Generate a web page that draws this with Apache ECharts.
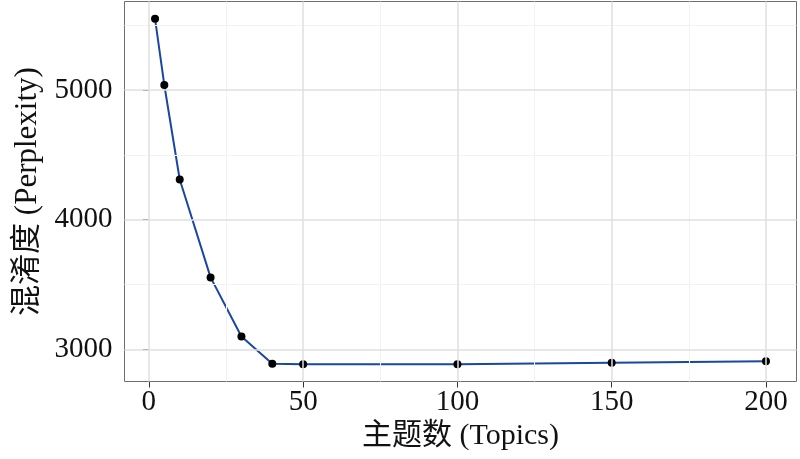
<!DOCTYPE html>
<html>
<head>
<meta charset="utf-8">
<script src="https://cdn.jsdelivr.net/npm/echarts@6/dist/echarts.min.js"></script>
<style>
html,body{margin:0;padding:0;background:#fff;}
#chart{width:800px;height:459px;}
</style>
</head>
<body>
<div id="chart"></div>
<script>
// Data
const topics = [2, 5, 10, 20, 30, 40, 50, 100, 150, 200];
const perplexity = [5548, 5038, 4310, 3556, 3100, 2890, 2887, 2887, 2898, 2910];
// Axis ticks
const xMajorTicks = [0, 50, 100, 150, 200];
const xMinorTicks = [25, 75, 125, 175];
const yMajorTicks = [3000, 4000, 5000];
const yMinorTicks = [3500, 4500, 5500];
const xTitle = '主题数 (Topics)';
const yTitle = '混淆度 (Perplexity)';

// ggplot-like 5% expansion of data range
const xr = [Math.min(...topics), Math.max(...topics)];
const yr = [Math.min(...perplexity), Math.max(...perplexity)];
const xPad = (xr[1] - xr[0]) * 0.05, yPad = (yr[1] - yr[0]) * 0.05;

const FONT = "'Liberation Serif', 'Times New Roman', 'Noto Sans CJK SC', serif";

function gridLines(vals, key, color, width) {
  return vals.map(v => ({ [key]: v, lineStyle: { color: color, width: width, type: 'solid' } }));
}

const chart = echarts.init(document.getElementById('chart'), null, { renderer: 'canvas' });
chart.setOption({
  animation: false,
  backgroundColor: '#ffffff',
  grid: {
    left: 124.5, right: 3.5, top: 1.5, bottom: 77.5,
    show: true, borderColor: '#6e6e6e', borderWidth: 1, backgroundColor: 'transparent',
    z: 5
  },
  xAxis: {
    type: 'value',
    min: xr[0] - xPad, max: xr[1] + xPad,
    axisLine: { show: false },
    splitLine: { show: false },
    axisTick: { show: true, customValues: xMajorTicks, length: 6, lineStyle: { color: '#333', width: 1 } },
    axisLabel: { customValues: xMajorTicks, formatter: v => String(v), color: '#111', fontFamily: FONT, fontSize: 29, margin: 6 },
    name: xTitle, nameLocation: 'middle', nameGap: 40,
    nameTextStyle: { color: '#111', fontFamily: FONT, fontSize: 30 }
  },
  yAxis: {
    type: 'value',
    min: yr[0] - yPad, max: yr[1] + yPad,
    axisLine: { show: false },
    splitLine: { show: false },
    axisTick: { show: true, customValues: yMajorTicks, length: 6, lineStyle: { color: '#333', width: 1 } },
    axisLabel: { customValues: yMajorTicks, formatter: v => String(v), color: '#111', fontFamily: FONT, fontSize: 29, margin: 12 },
    name: yTitle, nameLocation: 'middle', nameGap: 97, nameRotate: 90,
    nameTextStyle: { color: '#111', fontFamily: FONT, fontSize: 31, verticalAlign: 'middle' }
  },
  series: [
    {
      type: 'line', z: 1, silent: true, data: [], symbol: 'none',
      markLine: {
        silent: true, symbol: 'none', label: { show: false }, animation: false,
        data: [].concat(
          gridLines(xMinorTicks, 'xAxis', '#f2f2f2', 1),
          gridLines(yMinorTicks, 'yAxis', '#f2f2f2', 1),
          gridLines(xMajorTicks, 'xAxis', '#dfdfdf', 1.5),
          gridLines(yMajorTicks, 'yAxis', '#dfdfdf', 1.5)
        )
      }
    },
    {
      type: 'line', z: 3,
      data: topics.map((t, i) => [t, perplexity[i]]),
      lineStyle: { color: '#1a47a0', width: 2 },
      symbol: 'circle', symbolSize: 8,
      itemStyle: { color: '#000', borderWidth: 0 },
      showSymbol: true
    }
  ]
});
</script>
</body>
</html>
